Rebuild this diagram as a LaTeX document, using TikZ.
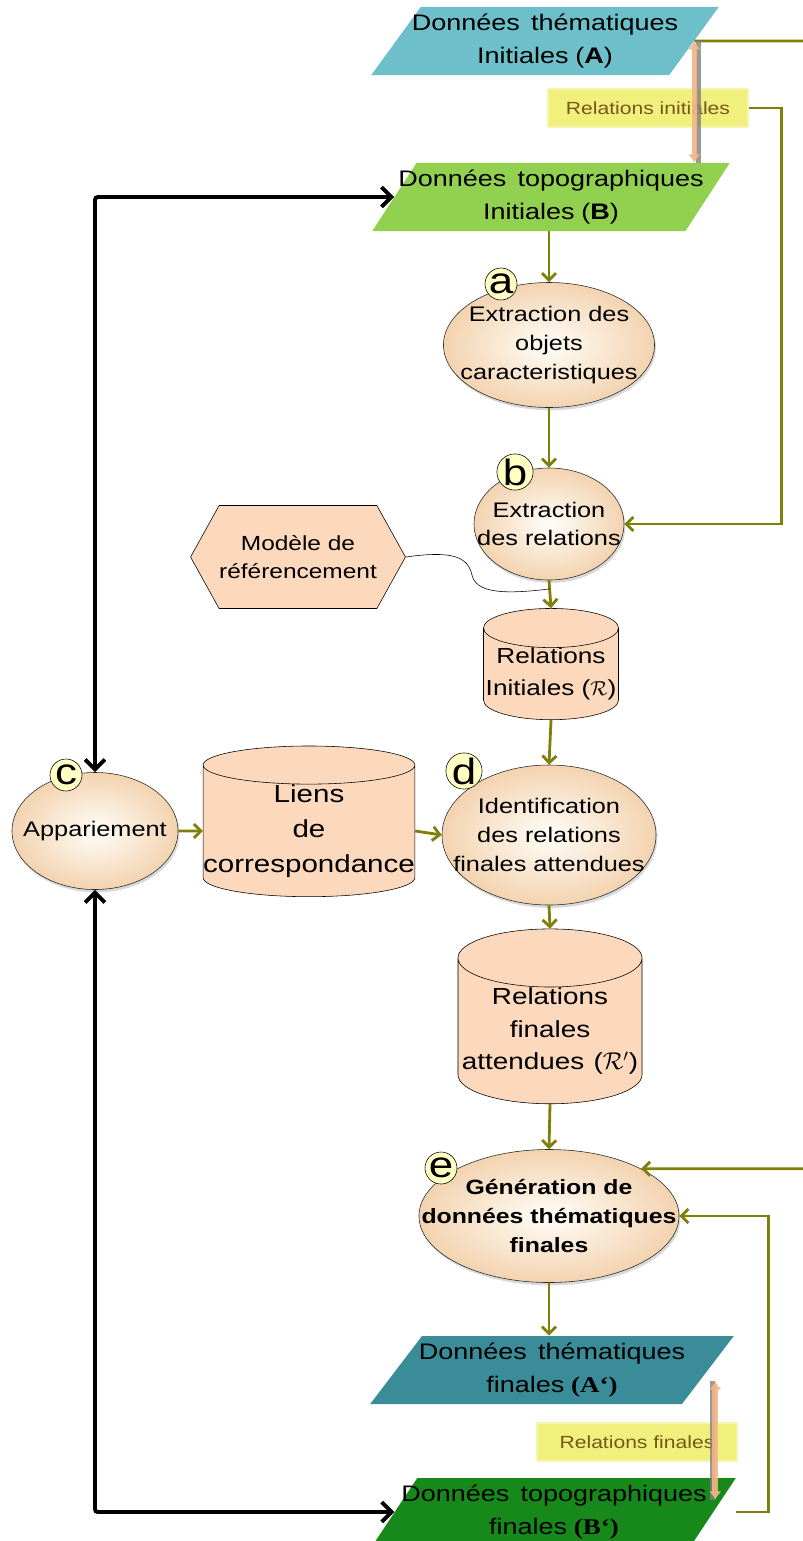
\documentclass[tikz,border=0pt]{standalone}
\usepackage{fontspec}
\setmainfont{Liberation Sans}[FakeStretch=1.2]
\newfontfamily\timesbf{Liberation Serif}[FakeStretch=1.2]
\usepackage{tikz}
\usetikzlibrary{arrows.meta,positioning,calc,shapes.geometric,shapes.symbols,shadows}
\definecolor{thInit}{HTML}{6DC0C9}
\definecolor{topoInit}{HTML}{92D050}
\definecolor{thFin}{HTML}{3A8D98}
\definecolor{topoFin}{HTML}{17891B}
\definecolor{flowC}{HTML}{7F7F0A}
\definecolor{peach}{HTML}{FCD8BC}
\definecolor{procIn}{HTML}{FFFEF8}
\definecolor{procOut}{HTML}{F3D3B0}
\definecolor{tagY}{HTML}{FFFFC4}
\definecolor{relY}{HTML}{F1F07C}
\definecolor{relTxt}{HTML}{76571A}
\definecolor{twoC}{HTML}{F2B486}

\tikzset{
  para/.style={trapezium, trapezium left angle=56, trapezium right angle=124,
    trapezium stretches=true, inner xsep=-1cm, inner ysep=0pt, align=center,
    minimum height=1.7cm, font=\fontsize{16}{24}\selectfont},
  proc/.style={ellipse, draw=black!85, inner xsep=-3cm, inner ysep=0pt, align=center,
    inner color=procIn, outer color=procOut,
    drop shadow={opacity=0.3, shadow xshift=1pt, shadow yshift=-2pt},
    font=\fontsize{15}{20.5}\selectfont},
  store/.style={cylinder, shape border rotate=90, draw, fill=peach, inner sep=0pt,
    align=center},
  tag/.style={circle, draw, fill=tagY, inner sep=0pt, minimum size=0.8cm,
    font=\fontsize{26}{26}\selectfont},
  relbox/.style={fill=relY, draw=relY!60, line width=2pt, text=relTxt,
    minimum width=5cm, minimum height=0.95cm, font=\fontsize{12.5}{14}\selectfont},
  flow/.style={flowC, line width=2pt, -{Straight Barb[length=5pt,width=10pt]}},
  match/.style={black, line width=2.8pt, rounded corners=2pt,
    {Straight Barb[length=7pt,width=14pt]}-{Straight Barb[length=7pt,width=14pt]}},
  twoway/.style={twoC, line width=4pt, opacity=0.9,
    {Latex[length=6pt,width=9pt]}-{Latex[length=6pt,width=9pt]}}
}

\begin{document}
\begin{tikzpicture}[x=0.025cm, y=-0.025cm]
\useasboundingbox (0,0) rectangle (803,1541);

% data sets
\node[para, fill=thInit, minimum width=8.7cm] (thA) at (545,41)
  {Données\hspace{0.5em}thématiques\\ Initiales\hspace{0.3em}(\textbf{A})};
\node[para, fill=topoInit, minimum width=8.95cm] (topoB) at (551,197)
  {Données\hspace{0.5em}topographiques\\ Initiales\hspace{0.3em}(\textbf{B})};
\node[para, fill=thFin, minimum width=9.1cm] (thAf) at (552,1370)
  {Données\hspace{0.5em}thématiques\\ finales\hspace{0.3em}{\timesbf\bfseries(A‘)}};
\node[para, fill=topoFin, minimum width=9.1cm] (topoBf) at (554,1512)
  {Données\hspace{0.5em}topographiques\\ finales\hspace{0.3em}{\timesbf\bfseries(B‘)}};

% processes
\node[proc, minimum width=5.275cm, minimum height=3.125cm] (extObj) at (549,345)
  {Extraction des\\ objets\\ caracteristiques};
\node[proc, minimum width=3.75cm, minimum height=2.8cm] (extRel) at (549,524)
  {Extraction\\ des relations};
\node[proc, minimum width=4.15cm, minimum height=2.925cm] (appar) at (95,831)
  {Appariement};
\node[proc, minimum width=5.35cm, minimum height=3.5cm] (identif) at (549,835)
  {Identification\\ des relations\\ finales attendues};
\node[proc, minimum width=6.5cm, minimum height=3.325cm,
  font=\fontsize{14.7}{20.5}\selectfont\bfseries] (gener) at (549,1216)
  {Génération de\\ données thématiques\\ finales};

% stores
\node[store, aspect=0.3, minimum width=3.375cm, minimum height=2.3cm,
  font=\fontsize{15.5}{22.7}\selectfont] (relR) at (551,674)
  {Relations\\ Initiales ($\mathcal{R}$)};
\node[store, aspect=0.18, minimum width=5.2cm, minimum height=3.325cm,
  font=\fontsize{17.5}{25}\selectfont] (liens) at (309,831)
  {Liens\\ de\\ correspondance};
\node[store, aspect=0.33, minimum width=4.6cm, minimum height=3.425cm,
  font=\fontsize{16.5}{23.4}\selectfont] (relRp) at (550,1031)
  {Relations\\ finales\\ attendues\hspace{0.4em}($\mathcal{R}'$)};

% reference model
\node[signal, signal to=west and east, signal pointer angle=122, draw, fill=peach,
  minimum width=4.825cm, minimum height=2.575cm, inner sep=0pt, align=center,
  font=\fontsize{14.5}{20}\selectfont] (modele) at (298,557)
  {Modèle de\\ référencement};

% relation labels
\node[relbox] (relIni) at (648,108) {Relations initiales};
\node[relbox] (relFin) at (637,1442) {Relations finales};

% step tags
\node[tag] (tagA) at (501,284) {a};
\node[tag] (tagB) at (515,472) {b};
\node[tag] (tagC) at (66,775) {c};
\node[tag] (tagD) at (464,771) {d};
\node[tag] (tagE) at (441,1168) {e};

% main flow
\draw[flow] (topoB.south -| extObj.north) -- (extObj.north);
\draw[flow] (extObj.south) -- (extRel.north);
\draw[flow] (extRel.south) -- (relR.north);
\draw[flow] (relR.south) -- (identif.north);
\draw[flow] (identif.south) -- (relRp.north);
\draw[flow] (relRp.south) -- (gener.north);
\draw[flow] (gener.south) -- (thAf.north -| gener.south);
\draw[flow] (appar.east) -- (liens.west);
\draw[flow] (liens.east) -- (identif.west);
\draw[flow] (relIni.east) -- ++(32,0) |- (extRel.east);
\draw[flow] (thA.east) -- (808,41) |- (gener.north east);
\draw[flow] ([xshift=0.55cm]topoBf.east) -- ++(33,0) |- (gener.east);

% model joins the flow
\coordinate (mj) at ($(extRel.south)!0.31!(relR.north)$);
\draw[black, thin] (modele.east) .. controls (455,550) and (468,558) .. (472,575)
  .. controls (476,592) and (500,595) .. (mj);

% matching
\draw[match] (appar.north) |- (topoB.west);
\draw[match] (appar.south) |- (topoBf.west);

% thematic/topographic relations
\draw[gray, line width=3pt, opacity=0.8] ([xshift=3pt]thA.east) -- ([xshift=3pt]thA.east |- topoB.north);
\draw[twoway] (thA.east) -- (thA.east |- topoB.north);
\draw[gray, line width=3pt, opacity=0.8] ([xshift=3pt,yshift=-8pt]thAf.east) -- ([xshift=3pt,yshift=-0.55cm]thAf.east |- topoBf.north);
\draw[twoway] ([xshift=5pt,yshift=-8pt]thAf.east) -- ([xshift=5pt,yshift=-0.55cm]thAf.east |- topoBf.north);
\end{tikzpicture}
\end{document}
